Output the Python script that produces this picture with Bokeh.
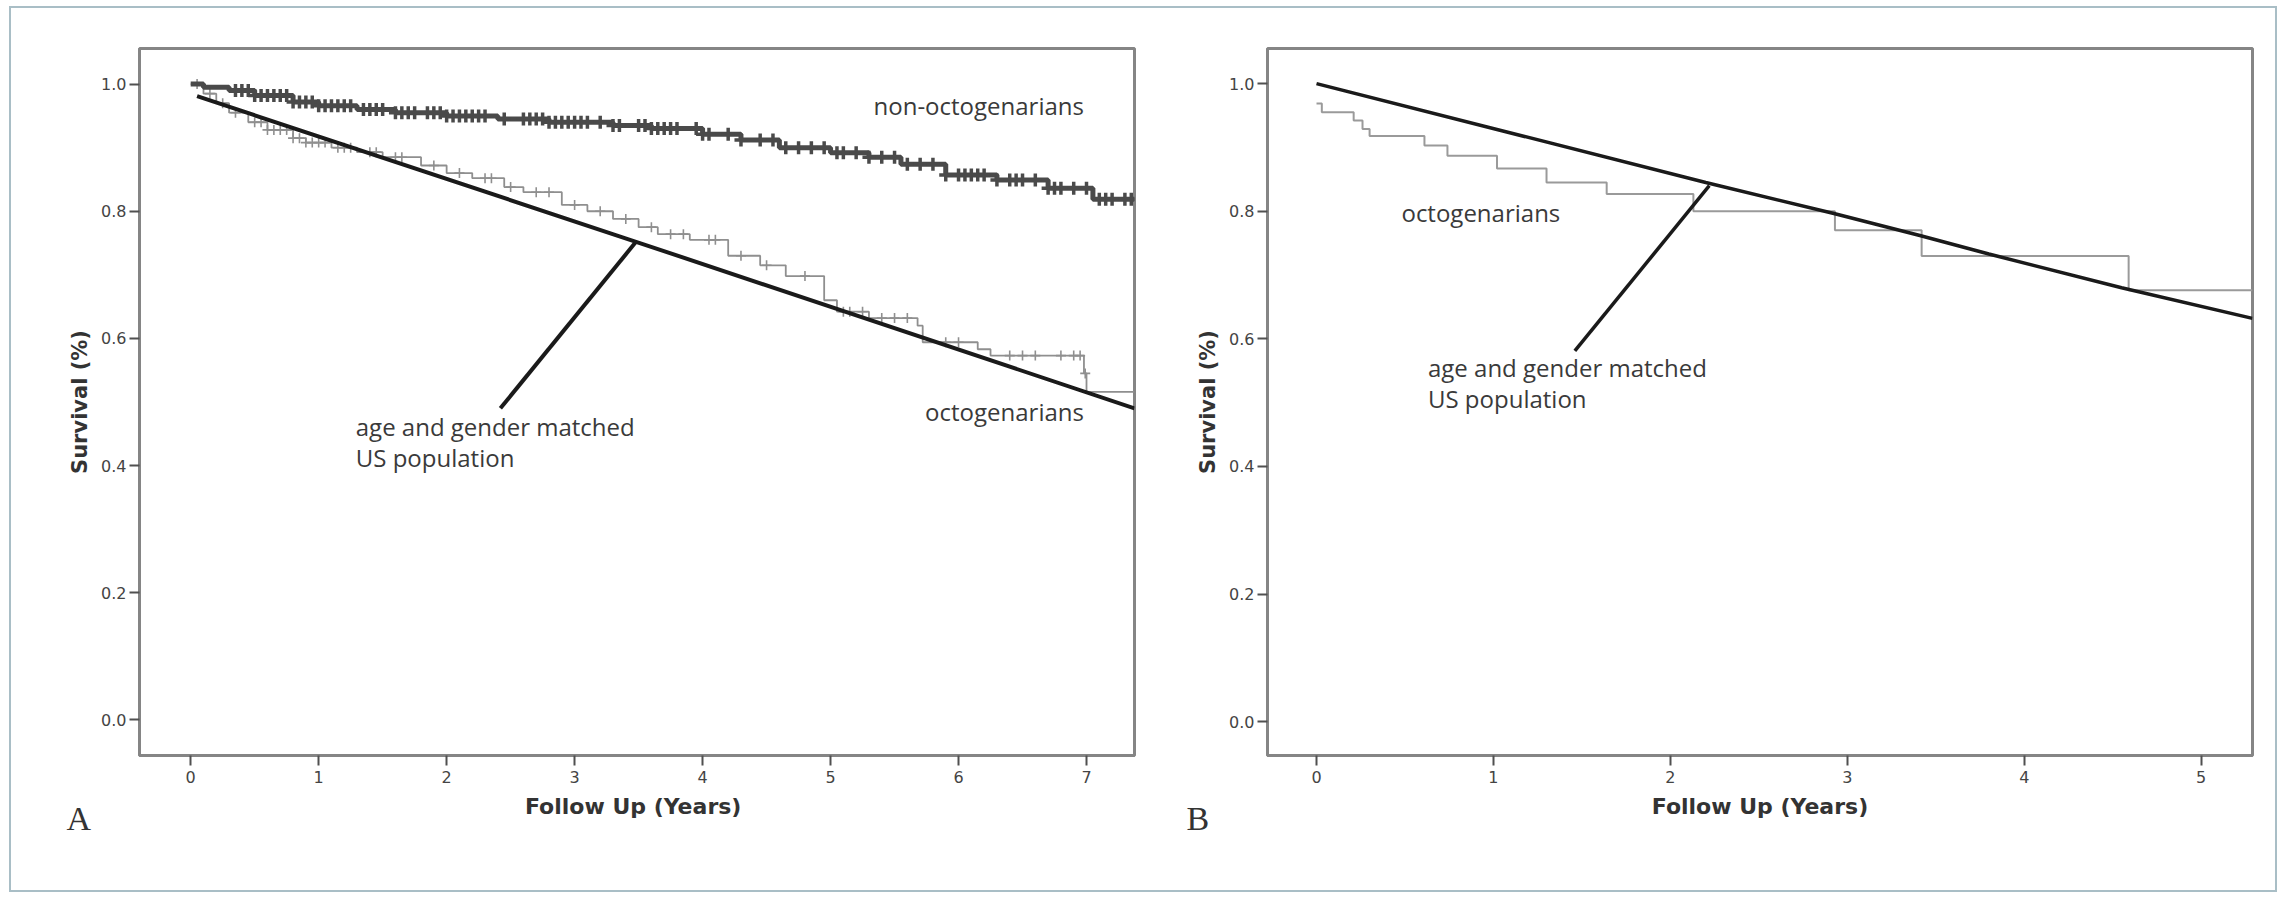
import numpy as np
from bokeh.plotting import figure
from bokeh.layouts import row
from bokeh.models import Range1d, FixedTicker, NumeralTickFormatter, Title
from bokeh.core.properties import value
from bokeh.embed import file_html
from bokeh.resources import INLINE

# ---------------- Panel A data ----------------
a_x_ticks = [0, 1, 2, 3, 4, 5, 6, 7]
y_ticks = [0.0, 0.2, 0.4, 0.6, 0.8, 1.0]

# non-octogenarians Kaplan-Meier (time in years, survival)
a_non_t = [0.0, 0.1, 0.3, 0.5, 0.8, 1.0, 1.3, 1.6, 2.0, 2.4, 2.8, 3.3, 3.6, 4.0,
           4.3, 4.6, 5.0, 5.3, 5.55, 5.9, 6.3, 6.7, 7.05, 7.375]
a_non_s = [1.0, 0.995, 0.99, 0.982, 0.972, 0.966, 0.96, 0.955, 0.95, 0.945, 0.94,
           0.935, 0.93, 0.921, 0.912, 0.9, 0.892, 0.885, 0.874, 0.857, 0.849,
           0.836, 0.819, 0.819]
a_non_cens = [0.35, 0.4, 0.45, 0.5, 0.55, 0.6, 0.65, 0.7, 0.75, 0.8, 0.85, 0.9, 0.95,
              1.0, 1.05, 1.1, 1.15, 1.2, 1.25, 1.35, 1.4, 1.45, 1.5, 1.6, 1.65, 1.7,
              1.75, 1.85, 1.9, 1.95, 2.0, 2.05, 2.1, 2.15, 2.2, 2.25, 2.3, 2.45, 2.6,
              2.65, 2.7, 2.75, 2.8, 2.85, 2.9, 2.95, 3.0, 3.05, 3.1, 3.2, 3.3, 3.35,
              3.5, 3.55, 3.6, 3.65, 3.7, 3.75, 3.8, 3.95, 4.0, 4.05, 4.2, 4.3, 4.45,
              4.55, 4.65, 4.75, 4.85, 4.95, 5.05, 5.1, 5.2, 5.3, 5.4, 5.5, 5.6, 5.7,
              5.8, 5.9, 6.0, 6.05, 6.1, 6.15, 6.2, 6.3, 6.4, 6.45, 6.5, 6.6, 6.7,
              6.75, 6.8, 6.9, 7.0, 7.1, 7.15, 7.2, 7.3, 7.35]

# octogenarians Kaplan-Meier
a_oct_t = [0.0, 0.1, 0.2, 0.3, 0.45, 0.6, 0.8, 0.9, 1.1, 1.3, 1.5, 1.8, 2.0, 2.2,
           2.45, 2.6, 2.9, 3.1, 3.3, 3.5, 3.65, 3.9, 4.2, 4.45, 4.65, 4.95, 5.05,
           5.3, 5.68, 5.72, 6.15, 6.25, 6.98, 7.0, 7.375]
a_oct_s = [1.0, 0.985, 0.97, 0.955, 0.94, 0.928, 0.915, 0.908, 0.9, 0.893, 0.885,
           0.872, 0.86, 0.852, 0.838, 0.83, 0.81, 0.8, 0.788, 0.775, 0.764, 0.755,
           0.73, 0.715, 0.698, 0.66, 0.642, 0.632, 0.62, 0.594, 0.583, 0.573,
           0.545, 0.516, 0.516]
a_oct_cens = [0.05, 0.15, 0.25, 0.35, 0.5, 0.55, 0.6, 0.65, 0.7, 0.75, 0.8, 0.85,
              0.9, 0.95, 1.0, 1.05, 1.15, 1.2, 1.25, 1.4, 1.45, 1.6, 1.65, 1.9,
              2.1, 2.3, 2.35, 2.5, 2.7, 2.8, 3.0, 3.2, 3.4, 3.6, 3.75, 3.85, 4.05,
              4.1, 4.3, 4.5, 4.8, 5.1, 5.15, 5.25, 5.4, 5.5, 5.6, 5.9, 6.0, 6.4,
              6.5, 6.6, 6.8, 6.9, 6.95, 6.99]

# age and gender matched US population (expected survival)
a_us_t = [0.05, 3.48, 7.375]
a_us_s = [0.981, 0.752, 0.49]
a_ptr_x = [3.48, 2.42]
a_ptr_y = [0.752, 0.49]

# ---------------- Panel B data ----------------
b_x_ticks = [0, 1, 2, 3, 4, 5]
b_us_t = [0.0, 2.2, 2.93, 3.41, 3.8, 4.55, 5.29]
b_us_s = [1.0, 0.845, 0.796, 0.762, 0.733, 0.68, 0.632]
b_oct_t = [0.0, 0.03, 0.21, 0.26, 0.30, 0.61, 0.74, 1.02, 1.30, 1.64, 2.13, 2.93,
           3.42, 4.59, 5.29]
b_oct_s = [0.969, 0.955, 0.942, 0.929, 0.918, 0.903, 0.887, 0.867, 0.845, 0.827,
           0.80, 0.77, 0.73, 0.676, 0.676]
b_ptr_x = [2.22, 1.46]
b_ptr_y = [0.84, 0.581]

LABEL_FONT = value("Open Sans")
LABEL_COLOR = "#3a3a3a"


def km_at(times, surv, t):
    idx = np.searchsorted(np.array(times), np.array(t), side="right") - 1
    return list(np.array(surv)[idx])


def make_fig(width, xr, yr, xticks, mbl, mbr, mbt, mbb, xlabel):
    p = figure(width=width, height=882, x_range=Range1d(*xr), y_range=Range1d(*yr),
               output_backend="svg", toolbar_location=None,
               min_border_left=mbl, min_border_right=mbr,
               min_border_top=mbt, min_border_bottom=mbb)
    p.xgrid.visible = False
    p.ygrid.visible = False
    p.background_fill_color = "white"
    p.border_fill_color = "white"
    p.outline_line_color = "#858585"
    p.outline_line_width = 3
    p.outline_line_alpha = 1.0
    for ax in (p.xaxis[0], p.yaxis[0]):
        ax.axis_line_color = "#858585"
        ax.axis_line_width = 3
        ax.major_tick_line_color = "#505050"
        ax.major_tick_line_width = 2
        ax.major_tick_out = 10
        ax.major_tick_in = 0
        ax.minor_tick_line_color = None
        ax.major_label_text_font = "DejaVu Sans"
        ax.major_label_text_font_size = "16px"
        ax.major_label_text_color = "#444444"
        ax.axis_label_text_font = "DejaVu Sans"
        ax.axis_label_text_font_style = "bold"
        ax.axis_label_text_color = "#333333"
    p.xaxis.ticker = FixedTicker(ticks=xticks)
    p.yaxis.ticker = FixedTicker(ticks=y_ticks)
    p.yaxis.formatter = NumeralTickFormatter(format="0.0")
    p.xaxis.major_label_standoff = 5
    p.yaxis.major_label_standoff = 3
    p.xaxis.axis_label = xlabel
    p.yaxis.axis_label = "Survival (%)"
    p.xaxis.axis_label_text_font_size = "22px"
    p.yaxis.axis_label_text_font_size = "21px"
    p.xaxis.axis_label_standoff = 8
    p.yaxis.axis_label_standoff = 6
    return p


def panel_letter(p, letter, offset):
    p.add_layout(Title(text=letter, align="left", offset=offset, standoff=-44,
                       vertical_align="top", text_font="Liberation Serif",
                       text_font_size="34px", text_font_style="normal",
                       text_color="#333333"), "below")


# ---------------- Panel A ----------------
pA = make_fig(1159, (-0.4, 7.375), (-0.056, 1.056), a_x_ticks, 128, 36, 39, 130,
              "Follow  Up (Years)")
pA.step(a_oct_t, a_oct_s, mode="after", line_color="#8f8f8f", line_width=1.8)
pA.scatter(a_oct_cens, km_at(a_oct_t, a_oct_s, a_oct_cens), marker="cross",
           size=10, line_color="#8f8f8f", line_width=1.6)
pA.step(a_non_t, a_non_s, mode="after", line_color="#4a4a4a", line_width=5)
pA.scatter(a_non_cens, km_at(a_non_t, a_non_s, a_non_cens), marker="cross",
           size=13, line_color="#4a4a4a", line_width=3.5)
pA.line(a_us_t, a_us_s, line_color="#1a1a1a", line_width=4)
pA.line(a_ptr_x, a_ptr_y, line_color="#1a1a1a", line_width=4)
pA.text(x=[6.98, 6.98], y=[0.966, 0.485], text=["non-octogenarians", "octogenarians"],
        text_font=LABEL_FONT, text_font_size="24px", text_color=LABEL_COLOR,
        text_align="right", text_baseline="middle")
pA.text(x=[1.29, 1.29], y=[0.462, 0.412], text=["age and gender matched", "US population"],
        text_font=LABEL_FONT, text_font_size="24px", text_color=LABEL_COLOR,
        text_align="left", text_baseline="middle")
panel_letter(pA, "A", -73)

# ---------------- Panel B ----------------
pB = make_fig(1105, (-0.277, 5.29), (-0.053, 1.055), b_x_ticks, 97, 23, 40, 135,
              "Follow Up (Years)")
pB.step(b_oct_t, b_oct_s, mode="after", line_color="#9a9a9a", line_width=2)
pB.line(b_us_t, b_us_s, line_color="#1a1a1a", line_width=3.5)
pB.line(b_ptr_x, b_ptr_y, line_color="#1a1a1a", line_width=3.5)
pB.text(x=[0.48], y=[0.798], text=["octogenarians"],
        text_font=LABEL_FONT, text_font_size="24px", text_color=LABEL_COLOR,
        text_align="left", text_baseline="middle")
pB.text(x=[0.63, 0.63], y=[0.555, 0.506], text=["age and gender matched", "US population"],
        text_font=LABEL_FONT, text_font_size="24px", text_color=LABEL_COLOR,
        text_align="left", text_baseline="middle")
panel_letter(pB, "B", -81)

layout = row(pA, pB, styles={"border": "2px solid #a9bec6",
                             "margin-left": "9px", "margin-top": "6px"})

open("out.html", "w").write(file_html(layout, INLINE))
